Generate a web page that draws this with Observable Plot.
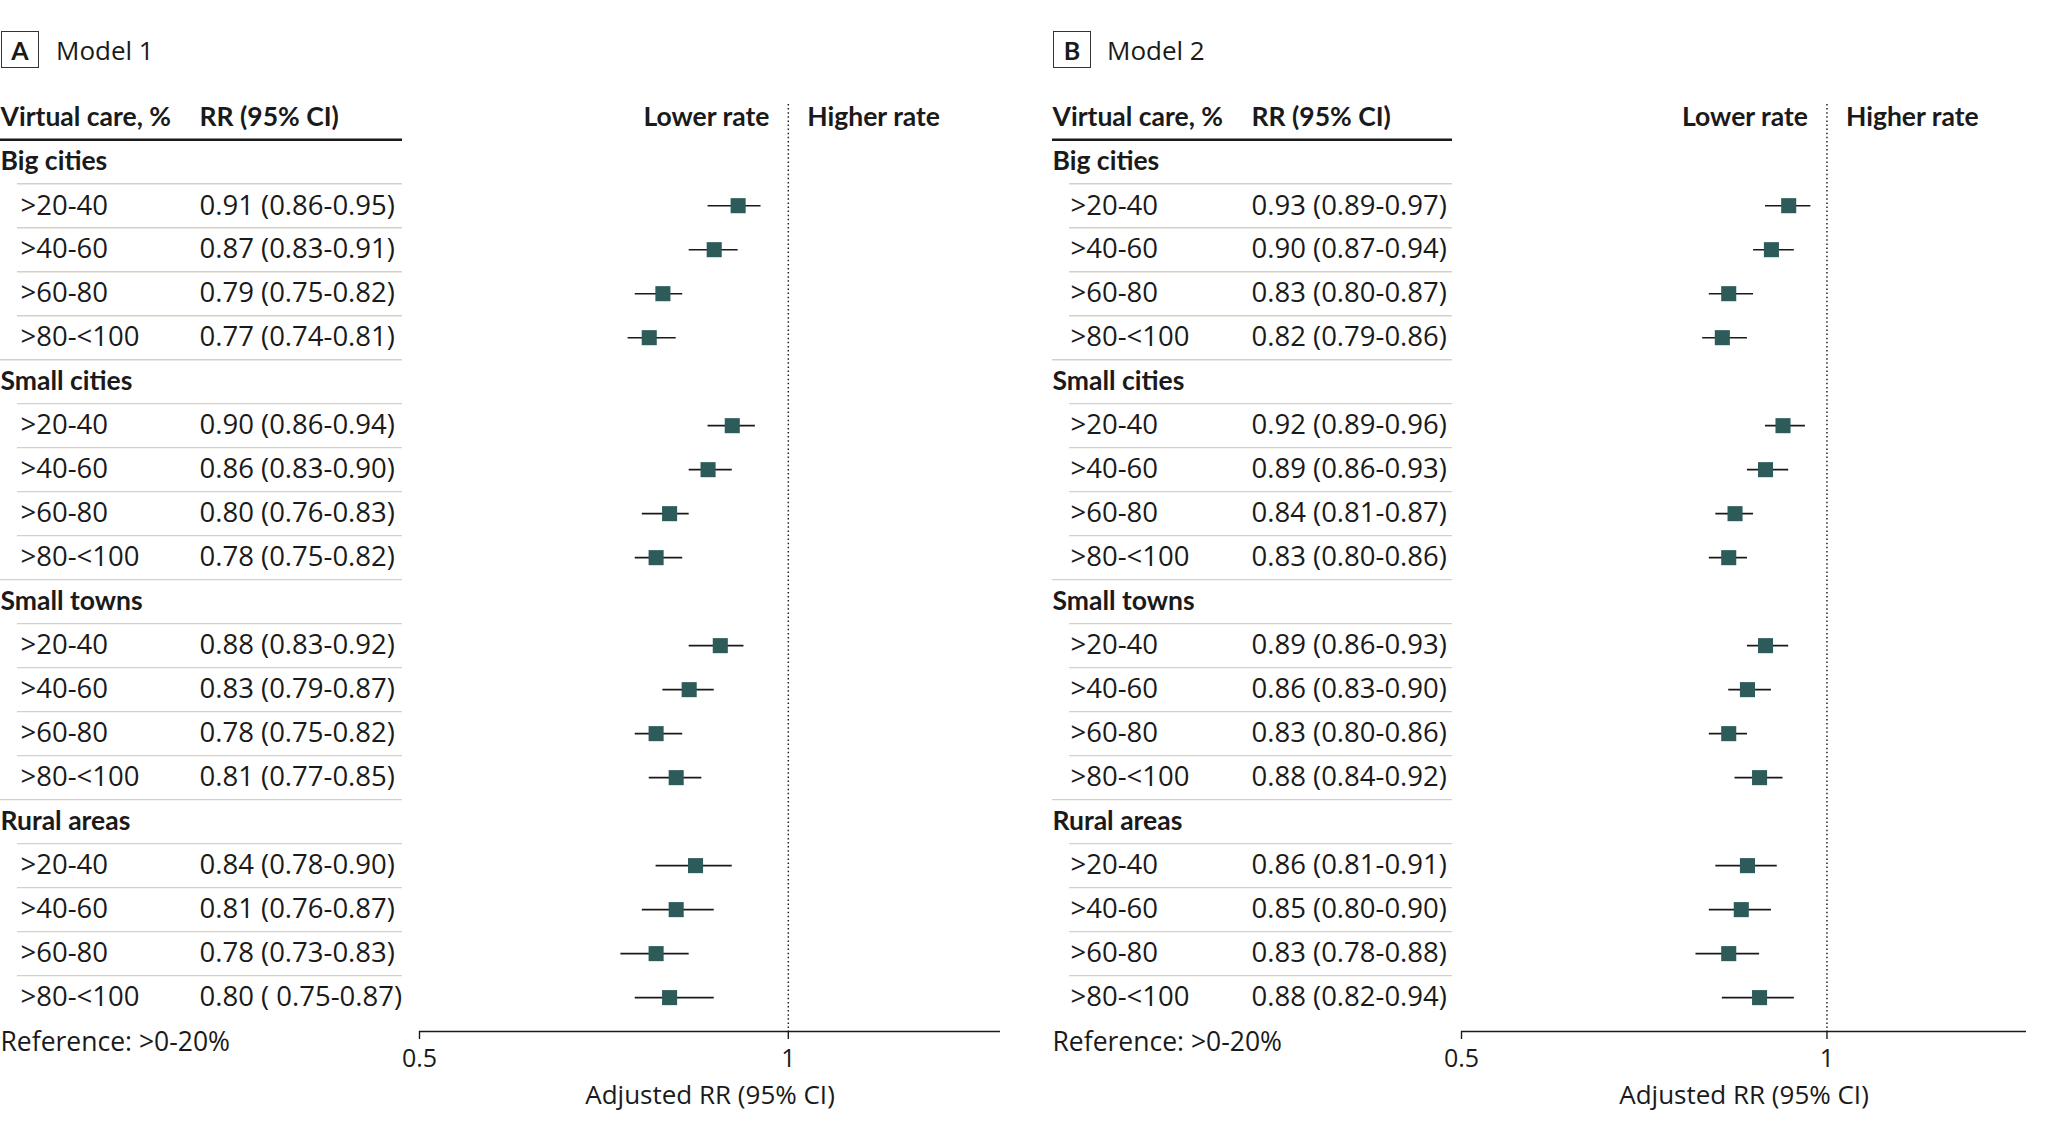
<!DOCTYPE html>
<html><head><meta charset="utf-8">
<script src="https://cdn.jsdelivr.net/npm/d3@7"></script>
<script src="https://cdn.jsdelivr.net/npm/@observablehq/plot@0.6"></script>
<style>
body{margin:0;background:#fff;width:2048px;height:1131px;overflow:hidden;font-family:"Open Sans","Liberation Sans",sans-serif;color:#1a1a1a}
.panel{position:absolute;top:0}
.title{height:88px;position:relative}
.box{position:absolute;left:1px;top:31px;width:36px;height:35px;border:1.5px solid #333;font-family:Lato,"Open Sans",sans-serif;font-weight:700;font-size:25px;display:flex;align-items:center;justify-content:center}
.model{position:absolute;top:50px;transform:translateY(-50%);font-size:26px;white-space:nowrap}
.row{display:flex;align-items:flex-start}
svg{overflow:visible}
</style></head><body>
<div id="A" class="panel" style="left:0"></div>
<div id="B" class="panel" style="left:1052px"></div>
<script>
// ---- data ----
const groups = ["Big cities", "Small cities", "Small towns", "Rural areas"];
const levels = [">20-40", ">40-60", ">60-80", ">80-<100"];

const m1RR = [0.91, 0.87, 0.79, 0.77, 0.90, 0.86, 0.80, 0.78, 0.88, 0.83, 0.78, 0.81, 0.84, 0.81, 0.78, 0.80];
const m1Lo = [0.86, 0.83, 0.75, 0.74, 0.86, 0.83, 0.76, 0.75, 0.83, 0.79, 0.75, 0.77, 0.78, 0.76, 0.73, 0.75];
const m1Hi = [0.95, 0.91, 0.82, 0.81, 0.94, 0.90, 0.83, 0.82, 0.92, 0.87, 0.82, 0.85, 0.90, 0.87, 0.83, 0.87];
const m1Text = ["0.91 (0.86-0.95)", "0.87 (0.83-0.91)", "0.79 (0.75-0.82)", "0.77 (0.74-0.81)",
  "0.90 (0.86-0.94)", "0.86 (0.83-0.90)", "0.80 (0.76-0.83)", "0.78 (0.75-0.82)",
  "0.88 (0.83-0.92)", "0.83 (0.79-0.87)", "0.78 (0.75-0.82)", "0.81 (0.77-0.85)",
  "0.84 (0.78-0.90)", "0.81 (0.76-0.87)", "0.78 (0.73-0.83)", "0.80 ( 0.75-0.87)"];

const m2RR = [0.93, 0.90, 0.83, 0.82, 0.92, 0.89, 0.84, 0.83, 0.89, 0.86, 0.83, 0.88, 0.86, 0.85, 0.83, 0.88];
const m2Lo = [0.89, 0.87, 0.80, 0.79, 0.89, 0.86, 0.81, 0.80, 0.86, 0.83, 0.80, 0.84, 0.81, 0.80, 0.78, 0.82];
const m2Hi = [0.97, 0.94, 0.87, 0.86, 0.96, 0.93, 0.87, 0.86, 0.93, 0.90, 0.86, 0.92, 0.91, 0.90, 0.88, 0.94];
const m2Text = ["0.93 (0.89-0.97)", "0.90 (0.87-0.94)", "0.83 (0.80-0.87)", "0.82 (0.79-0.86)",
  "0.92 (0.89-0.96)", "0.89 (0.86-0.93)", "0.84 (0.81-0.87)", "0.83 (0.80-0.86)",
  "0.89 (0.86-0.93)", "0.86 (0.83-0.90)", "0.83 (0.80-0.86)", "0.88 (0.84-0.92)",
  "0.86 (0.81-0.91)", "0.85 (0.80-0.90)", "0.83 (0.78-0.88)", "0.88 (0.82-0.94)"];

const xTicks = [0.5, 1];
const nullValue = 1;
const colHeaders = ["Virtual care, %", "RR (95% CI)"];
const sideLabels = ["Lower rate", "Higher rate"];
const axisLabel = "Adjusted RR (95% CI)";
const refNote = "Reference: >0-20%";

// ---- layout ----
const H = 1043, MT = 16, MB = 100, yTop = -1.3, yAxis = 19.77, headerRow = -1;
const teal = "#2d5b5a", ink = "#1a1a1a", sep = "#d6d1c2";
const font = "'Open Sans', 'Liberation Sans', sans-serif";
const headFont = "Lato, 'Open Sans', sans-serif";
const fs = 27.5, fsHead = 26.5, wHead = 700;

function buildRows(rr, lo, hi, text) {
  const rows = []; let k = 0;
  groups.forEach(g => {
    rows.push({i: rows.length, kind: "group", label: g});
    levels.forEach(lv => {
      rows.push({i: rows.length, kind: "sub", label: lv, text: text[k], rr: rr[k], lo: lo[k], hi: hi[k]});
      k++;
    });
  });
  return rows;
}

function panel(el, letter, title, rows, cfg) {
  const t = document.createElement("div");
  t.className = "title";
  t.innerHTML = `<div class="box">${letter}</div><div class="model" style="left:${cfg.titleX}px">${title}</div>`;
  el.appendChild(t);

  const seps = rows.slice(0, -1).map((r, j) => ({y: r.i + 0.5, full: rows[j + 1].kind === "group"}));
  const subs = rows.filter(r => r.kind === "sub");
  const grs = rows.filter(r => r.kind === "group");
  const yScale = {domain: [yTop, yAxis], reverse: true, axis: null};
  const style = {fontFamily: font, fontSize: "26px", color: ink, background: "none", overflow: "visible"};
  const head = {fontFamily: headFont, fontWeight: wHead, fontSize: fsHead};

  const table = Plot.plot({
    width: cfg.tableW, height: H, marginTop: MT, marginBottom: MB, marginLeft: 0, marginRight: cfg.tableW - cfg.lineEnd,
    y: yScale, style,
    marks: [
      Plot.ruleY([headerRow + 0.5], {stroke: ink, strokeWidth: 2.5}),
      Plot.ruleY(seps.filter(d => d.full), {y: "y", stroke: sep, strokeWidth: 1.4}),
      Plot.ruleY(seps.filter(d => !d.full), {y: "y", stroke: sep, strokeWidth: 1.4, insetLeft: 17}),
      Plot.text([colHeaders[0]], {y: () => headerRow, frameAnchor: "left", textAnchor: "start", ...head}),
      Plot.text([colHeaders[1]], {y: () => headerRow, frameAnchor: "left", textAnchor: "start", dx: cfg.rrCol, ...head}),
      Plot.text(grs, {y: "i", text: "label", frameAnchor: "left", textAnchor: "start", ...head}),
      Plot.text(subs, {y: "i", text: "label", frameAnchor: "left", textAnchor: "start", dx: cfg.indent, fontSize: fs}),
      Plot.text(subs, {y: "i", text: "text", frameAnchor: "left", textAnchor: "start", dx: cfg.rrCol, fontSize: fs}),
      Plot.text([refNote], {frameAnchor: "bottom-left", textAnchor: "start", dy: 19, fontSize: 26.5})
    ]
  });

  const forest = Plot.plot({
    width: cfg.forestW, height: H, marginTop: MT, marginBottom: MB, marginLeft: 0, marginRight: cfg.forestW - cfg.axisLen,
    x: {type: "log", domain: [0.5, cfg.xMax]},
    y: yScale, style,
    marks: [
      Plot.ruleX([nullValue], {stroke: "#222", strokeWidth: 1.5, strokeDasharray: "1.5,2.6"}),
      Plot.ruleY([yAxis], {stroke: ink, strokeWidth: 1.6}),
      Plot.axisX({ticks: xTicks, tickFormat: d => String(d), tickSize: 8, tickPadding: 10, fontSize: 25, label: null, stroke: ink, strokeWidth: 1.4}),
      Plot.text([axisLabel], {frameAnchor: "bottom", dy: 72, fontSize: 26}),
      Plot.text([sideLabels[0]], {x: () => nullValue, y: () => headerRow, textAnchor: "end", dx: -19, ...head}),
      Plot.text([sideLabels[1]], {x: () => nullValue, y: () => headerRow, textAnchor: "start", dx: 19, ...head}),
      Plot.ruleY(subs, {y: "i", x1: "lo", x2: "hi", stroke: ink, strokeWidth: 1.6}),
      Plot.dot(subs, {x: "rr", y: "i", symbol: "square", r: 8.5, fill: teal, stroke: null})
    ]
  });

  const row = document.createElement("div");
  row.className = "row";
  row.appendChild(table);
  row.appendChild(forest);
  el.appendChild(row);
}

panel(document.getElementById("A"), "A", "Model 1", buildRows(m1RR, m1Lo, m1Hi, m1Text),
  {titleX: 56, tableW: 419, lineEnd: 402, indent: 20, rrCol: 199, forestW: 611, axisLen: 581, xMax: 1.49});
panel(document.getElementById("B"), "B", "Model 2", buildRows(m2RR, m2Lo, m2Hi, m2Text),
  {titleX: 55, tableW: 409, lineEnd: 400, indent: 18, rrCol: 199, forestW: 587, axisLen: 565, xMax: 1.46});
</script>
</body></html>
